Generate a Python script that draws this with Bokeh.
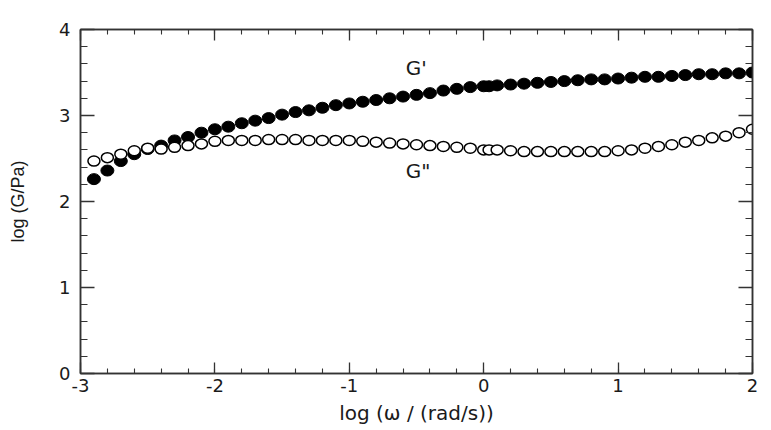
from bokeh.plotting import figure
from bokeh.models import (Range1d, LinearAxis, SingleIntervalTicker, Label,
                          CustomJSTickFormatter)
from bokeh.embed import file_html
from bokeh.resources import INLINE

# log(omega / (rad/s))
log_w = [-2.9, -2.8, -2.7, -2.6, -2.5, -2.4, -2.3, -2.2, -2.1, -2.0,
         -1.9, -1.8, -1.7, -1.6, -1.5, -1.4, -1.3, -1.2, -1.1, -1.0,
         -0.9, -0.8, -0.7, -0.6, -0.5, -0.4, -0.3, -0.2, -0.1, 0.0,
         0.04, 0.1, 0.2, 0.3, 0.4, 0.5, 0.6, 0.7, 0.8, 0.9, 1.0,
         1.1, 1.2, 1.3, 1.4, 1.5, 1.6, 1.7, 1.8, 1.9, 2.0]

# log(G'/Pa) filled circles
g_storage = [2.26, 2.36, 2.47, 2.55, 2.61, 2.65, 2.71, 2.75, 2.80, 2.84,
             2.87, 2.91, 2.94, 2.97, 3.01, 3.04, 3.06, 3.09, 3.12, 3.14,
             3.16, 3.18, 3.20, 3.22, 3.24, 3.26, 3.29, 3.31, 3.33, 3.34,
             3.34, 3.35, 3.36, 3.37, 3.38, 3.39, 3.40, 3.41, 3.42, 3.42, 3.43,
             3.44, 3.45, 3.45, 3.46, 3.47, 3.48, 3.48, 3.49, 3.49, 3.50]

# log(G''/Pa) open circles
g_loss = [2.47, 2.51, 2.55, 2.59, 2.62, 2.61, 2.63, 2.65, 2.67, 2.70,
          2.71, 2.71, 2.71, 2.72, 2.72, 2.72, 2.71, 2.71, 2.71, 2.71,
          2.70, 2.69, 2.68, 2.67, 2.66, 2.65, 2.64, 2.63, 2.62, 2.60,
          2.60, 2.60, 2.59, 2.58, 2.58, 2.58, 2.58, 2.58, 2.58, 2.58, 2.59,
          2.60, 2.62, 2.64, 2.66, 2.69, 2.71, 2.74, 2.76, 2.80, 2.84]

WIDE = "DejaVu Sans"
NARROW = "Liberation Sans"
INK = "#1a1a1a"
AXC = "#333333"

p = figure(width=771, height=430, output_backend="svg", toolbar_location=None,
           x_range=Range1d(-3, 2), y_range=Range1d(0, 4),
           min_border_left=80, min_border_right=19, min_border_top=29,
           min_border_bottom=57, x_axis_label="log (\u03c9 / (rad/s))",
           y_axis_label="log (G/Pa)")
p.grid.visible = False
p.outline_line_color = AXC
p.outline_line_width = 1.5
p.background_fill_color = "white"
p.border_fill_color = "white"

plain = CustomJSTickFormatter(code="return tick.toString();")
blank = CustomJSTickFormatter(code="return '';")


def style_axis(ax, major, minor, labels=True):
    ax.ticker = SingleIntervalTicker(interval=1, num_minor_ticks=5)
    ax.axis_line_color = AXC
    ax.axis_line_width = 1.5
    ax.major_tick_in = major
    ax.major_tick_out = 0
    ax.minor_tick_in = minor
    ax.minor_tick_out = 0
    ax.major_tick_line_color = AXC
    ax.minor_tick_line_color = AXC
    ax.major_tick_line_width = 1.3
    ax.minor_tick_line_width = 1.1
    if labels:
        ax.formatter = plain
        ax.major_label_text_font = WIDE
        ax.major_label_text_font_size = "18px"
        ax.major_label_text_color = INK
        ax.axis_label_text_font_style = "normal"
        ax.axis_label_text_color = INK
    else:
        ax.formatter = blank
        ax.major_label_standoff = 0


style_axis(p.xaxis[0], 11, 5)
style_axis(p.yaxis[0], 14, 7)
p.xaxis[0].major_label_standoff = 5
p.xaxis[0].axis_label_standoff = 6
p.xaxis[0].axis_label_text_font = WIDE
p.xaxis[0].axis_label_text_font_size = "20px"
p.yaxis[0].major_label_standoff = 10
p.yaxis[0].axis_label_standoff = 28
p.yaxis[0].axis_label_text_font = NARROW
p.yaxis[0].axis_label_text_font_size = "18px"

top = LinearAxis()
right = LinearAxis()
style_axis(top, 11, 5, labels=False)
style_axis(right, 14, 7, labels=False)
p.add_layout(top, "above")
p.add_layout(right, "right")

p.ellipse(log_w, g_storage, width=13, height=11, width_units="screen",
          height_units="screen", fill_color="black", line_color="black",
          line_width=1)
p.ellipse(log_w, g_loss, width=12, height=10, width_units="screen",
          height_units="screen", fill_color="white", line_color="black",
          line_width=1.5)

p.add_layout(Label(x=-0.58, y=3.55, text="G'", text_font=WIDE,
                   text_font_size="20px", text_color=INK,
                   text_baseline="middle"))
p.add_layout(Label(x=-0.58, y=2.35, text="G\"", text_font=WIDE,
                   text_font_size="20px", text_color=INK,
                   text_baseline="middle"))

open("out.html", "w").write(file_html(p, INLINE))
